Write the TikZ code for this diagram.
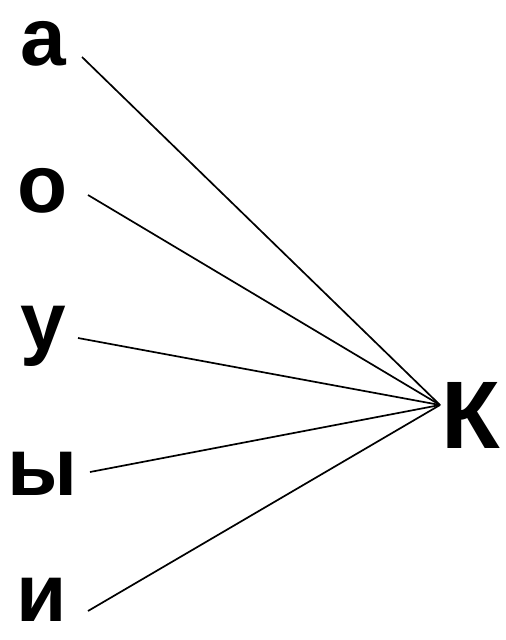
\documentclass[tikz,border=0pt]{standalone}
\usepackage{fontspec}
\setmainfont{Liberation Sans}
\begin{document}
\begin{tikzpicture}[x=1pt,y=-1pt,
  letter/.style={font=\bfseries\fontsize{82}{82}\selectfont, inner sep=0pt, anchor=base, text height=44pt, text depth=0pt},
  big/.style={font=\bfseries\fontsize{96}{96}\selectfont, inner sep=0pt, anchor=base west, text height=69pt, text depth=0pt},
  link/.style={line width=1.7pt}]
\useasboundingbox[fill=white] (0,0) rectangle (506,640);
\node[letter] (a) at (43,65) {а};
\node[letter] (o) at (43,212) {о};
\node[letter] (u) at (43,349) {у};
\node[letter] (y) at (43,495) {ы};
\node[letter] (i) at (42,621) {и};
\node[big] (k) at (441,448) {К};
\coordinate (k0) at (440,405);
\coordinate (a1) at (82,57);
\coordinate (o1) at (88,195);
\coordinate (u1) at (78,338);
\coordinate (y1) at (90,472);
\coordinate (i1) at (88,611);
\foreach \s in {a1,o1,u1,y1,i1} \draw[link] (\s) -- (k0);
\end{tikzpicture}
\end{document}
